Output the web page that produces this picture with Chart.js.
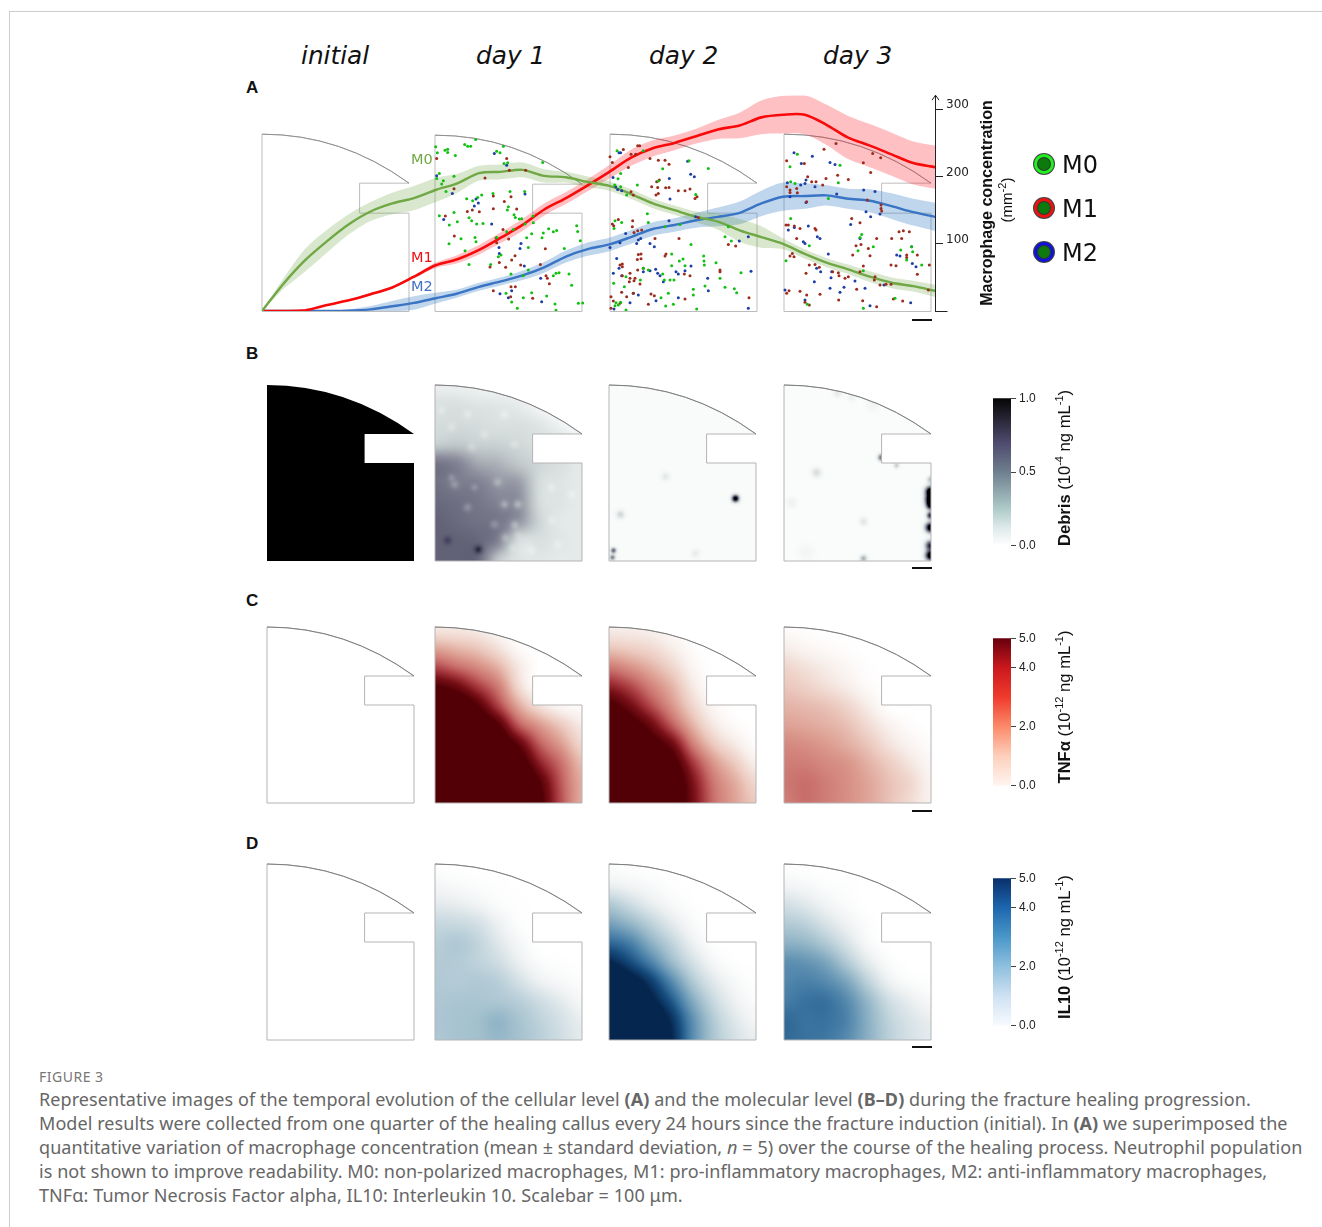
<!DOCTYPE html>
<html><head><meta charset="utf-8">
<script src="https://cdn.jsdelivr.net/npm/chart.js@4/dist/chart.umd.js"></script>
<style>
html,body{margin:0;padding:0;background:#fff;width:1322px;height:1227px;overflow:hidden}
#page{position:relative;width:1322px;height:1227px;overflow:hidden}
.abs{position:absolute;white-space:nowrap}
canvas{position:absolute}
.hdr{font:italic 24.8px "DejaVu Sans";color:#111;top:41px}
.let{font:bold 17px "Liberation Sans";color:#111;left:246px}
.rot{font:16.6px "Liberation Sans";color:#111;transform:translate(-50%,-50%) rotate(-90deg)}
.rot sup{font-size:11px;line-height:0}
.ml{font:14.5px "DejaVu Sans";left:411px;transform:translateY(-50%)}
.lg{font:24px "DejaVu Sans";color:#111;left:1062px;transform:translateY(-50%)}
.dot{width:14px;height:14px;left:1034px;border-radius:50%;background:#0d7a0d;border-width:3px;border-style:solid;box-shadow:0 0 0 1px #444,inset 0 0 0 1px #333;transform:translateY(-50%)}
.cap{font:18px "Noto Sans";color:#666;left:39px;letter-spacing:.075px}
.cap b{font-weight:700}
</style></head><body><div id="page">
<div class="abs" style="left:9px;top:11px;width:1313px;height:1px;background:#ccc"></div>
<div class="abs" style="left:9px;top:11px;width:1px;height:1216px;background:#ccc"></div>
<div class="abs hdr" style="left:301px">initial</div>
<div class="abs hdr" style="left:476px">day 1</div>
<div class="abs hdr" style="left:649px">day 2</div>
<div class="abs hdr" style="left:823px">day 3</div>
<div class="abs let" style="top:78px">A</div>
<div class="abs let" style="top:344px">B</div>
<div class="abs let" style="top:591px">C</div>
<div class="abs let" style="top:834px">D</div>
<canvas id="chartA" width="760" height="241" style="left:250px;top:85px"></canvas>
<canvas id="rowB" width="680" height="190" style="left:260px;top:380px"></canvas>
<canvas id="rowC" width="680" height="190" style="left:260px;top:622px"></canvas>
<canvas id="rowD" width="680" height="190" style="left:260px;top:859px"></canvas>
<canvas id="barB" width="68" height="168" style="left:993px;top:388px"></canvas>
<canvas id="barC" width="68" height="168" style="left:993px;top:628px"></canvas>
<canvas id="barD" width="68" height="168" style="left:993px;top:868px"></canvas>
<div class="abs ml" style="top:159px;color:#70a845">M0</div>
<div class="abs ml" style="top:257px;color:#f01010">M1</div>
<div class="abs ml" style="top:286px;color:#4472c4">M2</div>
<div class="abs rot" style="left:986px;top:203px;font-weight:bold;font-size:16.1px">Macrophage concentration</div>
<div class="abs rot" style="left:1006px;top:200px;font-size:15px">(mm<sup>-2</sup>)</div>
<div class="abs dot" style="top:164px;border-color:#22ee22"></div>
<div class="abs dot" style="top:208px;border-color:#ee1111"></div>
<div class="abs dot" style="top:252px;border-color:#1111dd"></div>
<div class="abs lg" style="top:165px">M0</div>
<div class="abs lg" style="top:209px">M1</div>
<div class="abs lg" style="top:253px">M2</div>
<div class="abs rot" style="left:1065px;top:468px"><b>Debris</b> (10<sup>-4</sup> ng mL<sup>-1</sup>)</div>
<div class="abs rot" style="left:1065px;top:707px"><b>TNFα</b> (10<sup>-12</sup> ng mL<sup>-1</sup>)</div>
<div class="abs rot" style="left:1065px;top:947px"><b>IL10</b> (10<sup>-12</sup> ng mL<sup>-1</sup>)</div>
<div class="abs" style="left:39px;top:1067px;font:14px 'Noto Sans';color:#777;letter-spacing:.5px">FIGURE 3</div>
<div class="abs cap" style="top:1087px">Representative images of the temporal evolution of the cellular level <b>(A)</b> and the molecular level <b>(B–D)</b> during the fracture healing progression.</div>
<div class="abs cap" style="top:1111px">Model results were collected from one quarter of the healing callus every 24 hours since the fracture induction (initial). In <b>(A)</b> we superimposed the</div>
<div class="abs cap" style="top:1135px">quantitative variation of macrophage concentration (mean ± standard deviation, <i>n</i> = 5) over the course of the healing process. Neutrophil population</div>
<div class="abs cap" style="top:1159px">is not shown to improve readability. M0: non-polarized macrophages, M1: pro-inflammatory macrophages, M2: anti-inflammatory macrophages,</div>
<div class="abs cap" style="top:1183px">TNFα: Tumor Necrosis Factor alpha, IL10: Interleukin 10. Scalebar = 100 μm.</div>
</div>
<script>
const hours=[0,3,6,9,12,15,18,21,24,27,30,33,36,39,42,45,48,51,54,57,60,63,66,69,72,75,78,81,84,87,90,93];
const m0Mean=[0,41,76,104,129,148,160,168,180,190,205,207,210,201,199,192,186,174,160,150,140,133,120,110,100,85,72,62,51,42,37,30];
const m0Sd=[0,8,17,17,15,14,16,18,18,14,11,11,11,10,8,8,7,7,7,7,8,12,17,16,8,7,7,7,8,8,8,9];
const m1Mean=[0,0,1,9,16,25,35,51,68,77,91,109,128,151,168,187,207,228,242,250,260,270,276,288,292,292,277,258,246,233,220,214];
const m1Sd=[0,0,0,1,1,2,2,2,4,6,7,8,9,9,9,9,10,12,12,11,11,14,19,25,28,29,30,32,32,32,32,32];
const m2Mean=[0,0,0,0,0.5,2.5,7,12,19,26,36,44,53,65,81,92,99,110,122,128,135,140,146,160,170,171,172,167,164,156,147,140];
const m2Sd=[0,0,0,0,2,5,8,10,8,6,6,6,7,8,9,10,10,10,10,10,11,14,17,19,21,19,15,15,17,19,20,21];
const yTicksA=[0,100,200,300];

// cell positions, in thirds of a pixel inside each day's frame
const day1M0=[[137,28],[17,50],[104,43],[113,48],[122,48],[45,60],[53,57],[53,67],[76,76],[22,68],[200,63],[210,68],[220,48],[233,98],[222,100],[338,97],[28,130],[20,145],[72,138],[40,152],[35,162],[48,184],[240,184],[155,195],[143,202],[128,212],[189,190],[110,206],[284,184],[232,240],[235,230],[28,257],[72,247],[252,254],[256,262],[268,267],[275,266],[117,263],[125,272],[82,275],[58,285],[140,282],[159,280],[309,258],[285,282],[310,278],[250,298],[230,305],[93,326],[57,341],[135,322],[138,335],[105,362],[117,403],[182,403],[213,375],[205,380],[243,432],[290,323],[305,311],[340,309],[336,323],[356,296],[380,301],[370,305],[440,287],[443,304],[451,332],[403,355],[295,352],[295,420],[280,437],[387,428],[378,430],[370,437],[417,432],[425,466],[350,498],[280,503],[305,488],[262,535],[245,516],[375,522],[378,541],[445,520],[458,519],[228,490],[200,322]];
const day1M1=[[20,85],[230,85],[238,120],[287,120],[165,144],[72,176],[223,214],[190,236],[112,244],[127,240],[148,245],[190,198],[243,200],[260,237],[46,258],[73,318],[219,298],[236,327],[198,324],[346,356],[255,377],[208,397],[180,411],[227,412],[245,390],[272,405],[331,403],[348,437],[358,461],[256,470],[190,482],[243,470],[242,500],[308,505],[200,338],[352,445]];
const day1M2=[[193,70],[230,105],[20,137],[67,190],[138,207],[145,219],[133,228],[41,268],[185,282],[285,192],[207,352],[273,340],[270,355],[208,370],[283,408],[332,445],[245,482],[210,491],[235,503],[335,515]];
const day2M0=[[36,62],[115,62],[47,130],[39,146],[29,165],[47,170],[97,165],[173,116],[160,153],[310,115],[252,92],[272,193],[65,195],[127,251],[27,295],[50,277],[130,277],[30,272],[180,290],[225,283],[370,290],[360,320],[379,333],[258,343],[200,372],[234,387],[296,378],[223,393],[200,407],[240,407],[297,393],[298,405],[333,398],[408,428],[115,415],[130,420],[173,432],[63,440],[26,460],[58,470],[195,450],[178,450],[207,450],[300,468],[345,445],[360,472],[265,478],[395,488],[265,495],[168,503],[190,490],[33,518],[47,517],[30,527],[182,528],[205,523],[63,540],[40,525],[275,537],[388,476],[106,450]];
const day2M1=[[98,47],[104,47],[55,58],[92,72],[15,80],[78,72],[22,97],[135,85],[160,90],[180,90],[192,102],[70,112],[155,155],[163,150],[140,170],[158,172],[182,173],[192,172],[220,182],[240,182],[255,177],[270,205],[276,200],[160,190],[153,195],[85,195],[78,185],[40,268],[22,282],[26,287],[83,272],[82,290],[110,300],[98,302],[87,307],[150,325],[222,325],[280,262],[100,373],[108,372],[183,372],[180,378],[97,388],[108,386],[45,405],[52,402],[52,410],[75,430],[98,420],[115,415],[75,445],[90,445],[87,452],[73,455],[52,437],[105,462],[85,490],[50,487],[65,500],[18,500],[25,513],[130,523],[138,492],[148,497],[240,507],[370,343],[392,348],[432,503],[345,420],[345,425],[238,432],[255,437],[18,535],[45,520]];
const day2M2=[[42,68],[47,68],[248,93],[257,132],[193,145],[268,140],[24,142],[32,170],[38,178],[50,182],[195,207],[192,272],[272,260],[15,352],[45,338],[62,310],[107,325],[100,330],[95,340],[148,350],[135,340],[403,333],[430,320],[35,385],[42,415],[25,430],[50,437],[115,425],[135,422],[152,418],[158,430],[165,437],[213,425],[220,432],[258,408],[308,445],[240,422],[175,455],[310,482],[27,537],[75,518],[100,495],[153,512],[220,503],[430,535],[438,424],[85,490]];
const day3M0=[[52,72],[30,110],[180,105],[175,158],[145,205],[32,155],[45,160],[32,265],[18,392],[245,313],[240,322],[280,350],[234,362],[88,347],[362,360],[395,350],[398,365],[380,390],[425,405],[250,422],[345,505],[82,523],[250,535]];
const day3M1=[[168,40],[132,57],[302,83],[278,70],[20,92],[73,100],[250,98],[272,127],[173,135],[138,145],[205,148],[83,140],[95,155],[108,155],[128,165],[20,170],[30,180],[30,187],[50,175],[52,188],[18,285],[60,295],[43,288],[105,295],[108,300],[50,325],[37,370],[42,380],[30,378],[215,265],[240,278],[243,343],[228,347],[265,355],[290,325],[335,325],[357,305],[370,302],[388,305],[365,325],[270,377],[218,375],[250,408],[333,405],[348,407],[380,375],[380,382],[412,375],[412,433],[448,405],[303,225],[303,235],[305,243],[262,210],[80,215],[88,405],[105,403],[78,430],[118,412],[158,425],[175,428],[177,437],[195,445],[205,440],[240,425],[285,440],[318,463],[333,463],[300,465],[283,450],[445,480],[230,478],[20,490],[27,482],[60,484],[80,495],[120,493],[176,510],[340,507],[368,513],[290,530],[248,512],[25,285],[88,525],[75,517]];
const day3M2=[[42,68],[97,78],[64,100],[150,97],[165,103],[78,150],[75,160],[105,170],[62,165],[22,158],[170,192],[251,180],[285,184],[78,217],[30,200],[300,252],[258,245],[272,260],[212,283],[25,300],[43,292],[85,288],[112,320],[120,325],[70,335],[75,340],[350,375],[360,378],[397,400],[408,410],[145,372],[110,415],[122,425],[153,443],[155,425],[103,455],[225,453],[255,475],[150,475],[192,472],[180,487],[15,480],[75,510],[270,527],[392,518],[312,465],[240,325],[395,350]];

// field readings on an 8 x 10 lattice, relative to each colour bar
const debrisDay1=[[.12,.12,.1,.08,.05,.02,.01,.01],[.2,.2,.18,.17,.14,.07,.02,0],[.22,.23,.22,.2,.2,.17,.1,.02],[.28,.3,.27,.26,.24,.2,.2,.15],[.6,.55,.42,.38,.3,.24,.2,.15],[.62,.58,.56,.48,.45,.22,.18,.15],[.65,.63,.6,.55,.5,.22,.18,.15],[.68,.65,.62,.6,.48,.25,.16,.15],[.68,.68,.66,.55,.22,.2,.17,.15],[.68,.68,.66,.3,.18,.17,.15,.15]];
const debrisDay1Spots=[[12,155,3,.12],[43,164,3,.22],[19,99,3,-.12],[39,102,2.5,-.1],[32,122,3,-.12],[16,92,2.5,-.1],[62,97,3,-.1],[69,119,3,-.14],[82,119,3,-.14],[59,139,3,-.12],[79,139,3,-.12],[69,152,3,-.1],[82,149,3,-.05],[76,162,3,-.04],[6,25,3,-.05],[16,42,3,-.05],[32,29,3,-.05],[49,49,3,-.05],[69,29,3,-.05],[79,59,3,-.05],[36,62,3,-.06],[116,102,3,-.04],[136,109,3,-.04],[116,135,3,-.04],[122,159,3,-.04],[96,165,3,-.04]];
const debrisDay2Spots=[[56,91,3,.12],[126,113,2.5,1.1],[11,129,3,.2],[4,165,2,.6],[86,168,3,.1],[3,172,2,.5]];
const debrisDay3Spots=[[32,87,3.5,.18],[7,117,4,.08],[79,136,3,.14],[79,173,2.5,.35],[22,167,6,.05],[53,8,3,.12],[67,12,3,.08],[88,19,5,.06],[97,72,2.5,.6],[112,80,2,.25],[146,94,2.5,.3],[146,106,3.5,1.3],[146,114,3.5,1.3],[146,120,3,1],[146,130,2.5,.9],[146,142,3.5,1.2],[146,160,3.5,.9],[146,170,3.5,1.2]];
const tnfDay1=[[.12,.12,.1,.04,0,0,0,0],[.35,.3,.25,.15,.03,0,0,0],[.65,.55,.45,.32,.12,0,0,0],[1,.9,.7,.5,.18,0,0,0],[1.3,1.2,1,.68,.35,.15,.05,.02],[1.3,1.3,1.2,1,.6,.4,.25,.12],[1.3,1.3,1.3,1.2,.95,.6,.4,.2],[1.3,1.3,1.3,1.3,1.15,.8,.55,.3],[1.3,1.3,1.3,1.3,1.3,1,.62,.35],[1.3,1.3,1.3,1.3,1.3,1.05,.65,.35]];
const tnfDay2=[[.1,.1,.08,.03,0,0,0,0],[.25,.22,.18,.1,.02,0,0,0],[.5,.42,.32,.2,.06,0,0,0],[.78,.66,.48,.32,.12,0,0,0],[1.05,.88,.65,.42,.2,.05,0,0],[1.25,1.1,.9,.6,.32,.12,.03,0],[1.3,1.25,1.1,.9,.5,.25,.12,.02],[1.3,1.3,1.25,1.1,.72,.42,.25,.1],[1.3,1.3,1.3,1.2,.85,.52,.35,.2],[1.3,1.3,1.3,1.2,.88,.55,.38,.25]];
const tnfDay3=[[.02,.01,0,0,0,0,0,0],[.1,.06,.03,.01,0,0,0,0],[.2,.15,.1,.05,.01,0,0,0],[.26,.22,.16,.1,.03,0,0,0],[.32,.3,.27,.2,.1,0,0,0],[.38,.36,.33,.28,.18,.08,.02,0],[.46,.44,.4,.34,.26,.15,.07,.02],[.5,.5,.46,.42,.33,.24,.14,.05],[.52,.55,.5,.44,.37,.28,.2,.08],[.5,.55,.5,.44,.37,.28,.18,.08]];
const il10Day1=[[.01,0,0,0,0,0,0,0],[.06,.04,.02,.01,0,0,0,0],[.14,.12,.08,.03,.01,0,0,0],[.25,.24,.2,.1,.02,0,0,0],[.3,.33,.27,.16,.06,0,0,0],[.32,.32,.28,.22,.11,.03,.01,0],[.33,.32,.33,.3,.2,.1,.05,.02],[.34,.35,.35,.34,.3,.22,.14,.06],[.35,.36,.38,.43,.36,.28,.2,.12],[.34,.36,.38,.42,.37,.3,.22,.14]];
const il10Day2=[[.02,.01,0,0,0,0,0,0],[.1,.07,.04,.01,0,0,0,0],[.32,.22,.12,.05,.01,0,0,0],[.52,.42,.28,.14,.04,0,0,0],[.75,.66,.45,.27,.1,.01,0,0],[1,.85,.65,.4,.2,.06,.01,0],[1.25,1.1,.9,.62,.33,.15,.05,.01],[1.3,1.25,1.05,.8,.48,.24,.1,.03],[1.3,1.3,1.2,.95,.6,.32,.16,.07],[1.3,1.3,1.25,1,.62,.35,.2,.12]];
const il10Day3=[[.01,0,0,0,0,0,0,0],[.07,.05,.02,.01,0,0,0,0],[.2,.15,.08,.03,0,0,0,0],[.32,.28,.18,.09,.02,0,0,0],[.45,.42,.32,.18,.05,0,0,0],[.6,.58,.5,.32,.14,.03,0,0],[.64,.66,.62,.5,.28,.1,.03,.01],[.68,.72,.72,.62,.42,.22,.12,.05],[.75,.72,.72,.65,.46,.28,.18,.12],[.75,.72,.7,.62,.46,.3,.2,.14]];
const debrisTicks=[0,0.5,1];
const cytokineTicks=[0,2,4,5];

Chart.defaults.animation=false;
Chart.defaults.responsive=false;
Chart.defaults.plugins.legend.display=false;
Chart.defaults.plugins.tooltip.enabled=false;

/* ---------- callus outline ---------- */
function callusPath(c,x,y,notchTop,notchBottom,w,h){
  c.beginPath();c.moveTo(x,y);
  c.quadraticCurveTo(x+80*w/148,y,x+w,y+notchTop);
  c.lineTo(x+w*0.664,y+notchTop);c.lineTo(x+w*0.664,y+notchBottom);
  c.lineTo(x+w,y+notchBottom);c.lineTo(x+w,y+h);c.lineTo(x,y+h);c.closePath();
}
function outline(c,x,y,notchTop,notchBottom,w,h,light,dark){
  c.save();c.lineWidth=1;c.strokeStyle=light;callusPath(c,x,y,notchTop,notchBottom,w,h);c.stroke();
  c.strokeStyle=dark;c.lineWidth=.9;c.beginPath();c.moveTo(x,y);
  c.quadraticCurveTo(x+80*w/148,y,x+w,y+notchTop);c.stroke();c.restore();
}

/* ---------- panel A ---------- */
const cellFrames=[[430,130],[605,130],[780,130]];  // page pixel of each crop origin
function cellData(list,day){
  const [ox,oy]=cellFrames[day];
  return list.map(p=>({x:ox+p[0]/3,y:oy+p[1]/3}));
}
const cellSet=(list,day,color)=>({type:'scatter',xAxisID:'xc',yAxisID:'yc',data:cellData(list,day),
  showLine:false,pointRadius:1.5,pointBorderWidth:0,pointBackgroundColor:color,order:2});
const series=(mean,f)=>mean.map((v,i)=>({x:hours[i],y:f(v,i)}));
const axes={xAxisID:'x',yAxisID:'y'};
const bandPair=(mean,sd,color)=>[
  {...axes,data:series(mean,(v,i)=>v+sd[i]),borderWidth:0,pointRadius:0,tension:.3,backgroundColor:color,fill:'+1',order:9},
  {...axes,data:series(mean,(v,i)=>Math.max(0,v-sd[i])),borderWidth:0,pointRadius:0,tension:.3,fill:false,order:9}];
const meanLine=(mean,color,w)=>({...axes,data:series(mean,v=>v),borderColor:color,borderWidth:w,pointRadius:0,tension:.3,fill:false,order:4,borderCapStyle:'round'});

const panelAFrames={id:'panelAFrames',
  beforeDatasetsDraw(chart){
    const {ctx,scales:{xc,yc}}=chart;
    [[262,134,49,79],[435,135,49,78],[610,134,49,79],[784,134,49,79]].forEach(f=>{
      const x=xc.getPixelForValue(f[0]),y=yc.getPixelForValue(f[1]);
      outline(ctx,x,y,f[2],f[3],147,yc.getPixelForValue(311.5)-y,'#bdbdbd','#8a8a8a');
    });
  },
  afterDraw(chart){
    const {ctx,scales:{y,xc,yc}}=chart;
    const ax=chart.chartArea.right+.5, top=y.top;
    ctx.save();ctx.strokeStyle='#222';ctx.lineWidth=1;
    ctx.beginPath();ctx.moveTo(ax-3.5,top+5);ctx.lineTo(ax,top);ctx.lineTo(ax+3.5,top+5);ctx.stroke();
    const z=y.getPixelForValue(0);
    ctx.beginPath();ctx.moveTo(ax,Math.round(z)+.5);ctx.lineTo(ax+12,Math.round(z)+.5);ctx.stroke();
    ctx.strokeStyle='#111';ctx.lineWidth=2;ctx.beginPath();
    ctx.moveTo(xc.getPixelForValue(912),yc.getPixelForValue(320));ctx.lineTo(xc.getPixelForValue(932),yc.getPixelForValue(320));ctx.stroke();
    ctx.restore();
  }};

new Chart(document.getElementById('chartA'),{
  type:'line',
  data:{datasets:[
    ...bandPair(m0Mean,m0Sd,'rgba(112,168,70,.27)'),
    ...bandPair(m1Mean,m1Sd,'rgba(255,30,40,.28)'),
    ...bandPair(m2Mean,m2Sd,'rgba(60,130,200,.33)'),
    meanLine(m0Mean,'#70a845',2.4),meanLine(m1Mean,'#f80a0a',2.6),meanLine(m2Mean,'#3a74c4',2.4),
    cellSet(day1M0,0,'#12c012'),cellSet(day1M1,0,'#9c2c1e'),cellSet(day1M2,0,'#1c3fa6'),
    cellSet(day2M0,1,'#12c012'),cellSet(day2M1,1,'#9c2c1e'),cellSet(day2M2,1,'#1c3fa6'),
    cellSet(day3M0,2,'#12c012'),cellSet(day3M1,2,'#9c2c1e'),cellSet(day3M2,2,'#1c3fa6')
  ]},
  options:{
    layout:{autoPadding:false,padding:{left:12,top:0,bottom:15,right:0}},
    scales:{
      x:{type:'linear',min:0,max:93,display:false},
      xc:{type:'linear',min:262,max:935,display:false},
      yc:{type:'linear',min:95,max:311,reverse:true,display:false},
      y:{type:'linear',position:'right',min:0,max:321,
        afterFit(s){s.width=75;},
        afterBuildTicks(s){s.ticks=yTicksA.map(v=>({value:v}));},
        border:{display:true,color:'#222',width:1},
        grid:{drawOnChartArea:false,drawTicks:true,tickLength:8,color:'#222',tickWidth:1},
        ticks:{padding:3,labelOffset:-4,color:'#222',font:{family:'DejaVu Sans',size:12},
          callback:v=>v===0?'':String(v)}}
    }},
  plugins:[panelAFrames]
});

/* ---------- panels B–D ---------- */
const debrisStops=[[0,255,255,255],[.1,240,243,243],[.22,213,220,220],[.35,181,188,192],[.5,142,143,158],[.65,106,106,126],[.8,69,67,92],[1,0,0,0]];
const redStops=[[0,255,255,255],[.1,247,238,234],[.25,236,202,191],[.4,220,155,143],[.55,201,111,107],[.7,168,58,64],[.85,122,16,24],[1,82,0,5]];
const blueStops=[[0,255,255,255],[.1,238,241,242],[.25,199,216,223],[.4,157,188,203],[.55,111,156,184],[.7,63,120,163],[.85,22,76,125],[1,5,38,79]];
const colorAt=(st,v)=>{
  v=Math.min(1,Math.max(0,v));
  for(let i=1;i<st.length;i++){ if(v<=st[i][0]){
    const a=st[i-1],b=st[i],t=(v-a[0])/(b[0]-a[0]);
    return [a[1]+(b[1]-a[1])*t,a[2]+(b[2]-a[2])*t,a[3]+(b[3]-a[3])*t];}}
  const l=st[st.length-1];return [l[1],l[2],l[3]];
};
const cr=(a,b,c,d,t)=>.5*((2*b)+(-a+c)*t+(2*a-5*b+4*c-d)*t*t+(-a+3*b-3*c+d)*t*t*t);
function sample(g,u,v){
  const R=g.length-1,C=g[0].length-1;
  const fx=Math.min(u*C,C-1e-6),fy=Math.min(v*R,R-1e-6),ix=Math.floor(fx),iy=Math.floor(fy),tx=fx-ix,ty=fy-iy;
  const rowV=r=>{const q=g[Math.max(0,Math.min(R,r))];const at=k=>q[Math.max(0,Math.min(C,k))];
    return cr(at(ix-1),at(ix),at(ix+1),at(ix+2),tx);};
  return cr(rowV(iy-1),rowV(iy),rowV(iy+1),rowV(iy+2),ty);
}
const W=147,H=176;
function nodes(grid,ox){
  const out=[];grid.forEach((row,r)=>row.forEach((val,c)=>out.push({x:ox+c*W/7,y:r*H/9,v:val})));return out;
}
const heatSet=(ox,grid,base,spots)=>({type:'scatter',data:grid?nodes(grid,ox):[{x:ox,y:0,v:base}],grid,base,spots:spots||[],ox,pointRadius:0,showLine:false});
const heatPlugin={id:'heat',
  beforeDatasetsDraw(chart,a,opt){
    const {ctx,scales:{x,y}}=chart;
    chart.data.datasets.forEach(ds=>{
      const px=x.getPixelForValue(ds.ox),py=y.getPixelForValue(0);
      const w=x.getPixelForValue(ds.ox+W)-px,h=y.getPixelForValue(H)-py;
      if(ds.grid||ds.base){
        const off=document.createElement('canvas');off.width=W;off.height=H;
        const oc=off.getContext('2d'),im=oc.createImageData(W,H);
        for(let j=0;j<H;j++)for(let i=0;i<W;i++){
          let v=ds.grid?sample(ds.grid,i/(W-1),j/(H-1)):ds.base;
          ds.spots.forEach(s=>{const d=(i-s[0])*(i-s[0])+(j-s[1])*(j-s[1]);v+=s[3]*Math.exp(-d/(2*s[2]*s[2]));});
          const col=colorAt(opt.stops,v),k=(j*W+i)*4;
          im.data[k]=col[0];im.data[k+1]=col[1];im.data[k+2]=col[2];im.data[k+3]=255;
        }
        oc.putImageData(im,0,0);
        ctx.save();callusPath(ctx,px,py,49,78,w,h);ctx.clip();ctx.drawImage(off,px,py,w,h);ctx.restore();
      }
      if(!(ds.base===1))outline(ctx,px,py,49,78,w,h,'#b4b4b4','#777');
    });
    ctx.save();ctx.strokeStyle='#111';ctx.lineWidth=2;ctx.beginPath();
    ctx.moveTo(x.getPixelForValue(652),y.getPixelForValue(opt.barY));
    ctx.lineTo(x.getPixelForValue(672),y.getPixelForValue(opt.barY));ctx.stroke();ctx.restore();
  }};
const PANELS=[7,175,349,524];
function row(id,sets,stops,barY){
  new Chart(document.getElementById(id),{
    type:'scatter',data:{datasets:sets},
    options:{layout:{autoPadding:false,padding:0},
      plugins:{heat:{stops,barY}},
      scales:{x:{type:'linear',min:0,max:680,display:false},y:{type:'linear',min:-5,max:185,reverse:true,display:false}}},
    plugins:[heatPlugin]
  });
}
row('rowB',[heatSet(PANELS[0],null,1),heatSet(PANELS[1],debrisDay1,0,debrisDay1Spots),heatSet(PANELS[2],null,.04,debrisDay2Spots),heatSet(PANELS[3],null,.03,debrisDay3Spots)],debrisStops,183);
row('rowC',[heatSet(PANELS[0],null,0),heatSet(PANELS[1],tnfDay1),heatSet(PANELS[2],tnfDay2),heatSet(PANELS[3],tnfDay3)],redStops,184);
row('rowD',[heatSet(PANELS[0],null,0),heatSet(PANELS[1],il10Day1),heatSet(PANELS[2],il10Day2),heatSet(PANELS[3],il10Day3)],blueStops,183);

/* ---------- colour bars ---------- */
function colorBar(id,maxV,ticks,stops){
  new Chart(document.getElementById(id),{
    type:'bar',
    data:{labels:['scale'],datasets:[{data:[[0,maxV]],barPercentage:1,categoryPercentage:1,borderWidth:0,
      backgroundColor(c){const a=c.chart.chartArea;if(!a)return '#ccc';
        const g=c.chart.ctx.createLinearGradient(0,a.bottom,0,a.top);stops.forEach(s=>g.addColorStop(s[0],s[1]));return g;}}]},
    options:{layout:{autoPadding:false,padding:{top:10,bottom:10,left:0,right:0}},
      scales:{x:{display:false},
        y:{type:'linear',position:'right',min:0,max:maxV,
          afterFit(s){s.width=50;},
          afterBuildTicks(s){s.ticks=ticks.map(v=>({value:v}));},
          border:{display:false},
          grid:{drawOnChartArea:false,tickLength:5,color:'#444'},
          ticks:{padding:3,color:'#222',font:{family:'Liberation Sans',size:12},callback:v=>v.toFixed(1)}}}}
  });
}
colorBar('barB',1,debrisTicks,[[0,'#ffffff'],[.12,'#dfeaea'],[.25,'#aecbc9'],[.5,'#6f7f8f'],[.7,'#4e4a6e'],[.85,'#2a2838'],[1,'#050505']]);
colorBar('barC',5,cytokineTicks,[[0,'#fff5f0'],[.2,'#fdd0bc'],[.4,'#fc8a6a'],[.6,'#ef3b2c'],[.8,'#cb181d'],[1,'#67000d']]);
colorBar('barD',5,cytokineTicks,[[0,'#f7fbff'],[.2,'#cfe1f2'],[.4,'#8fc0de'],[.6,'#4a98c9'],[.8,'#1d66ae'],[1,'#08306b']]);
</script>
</body></html>
